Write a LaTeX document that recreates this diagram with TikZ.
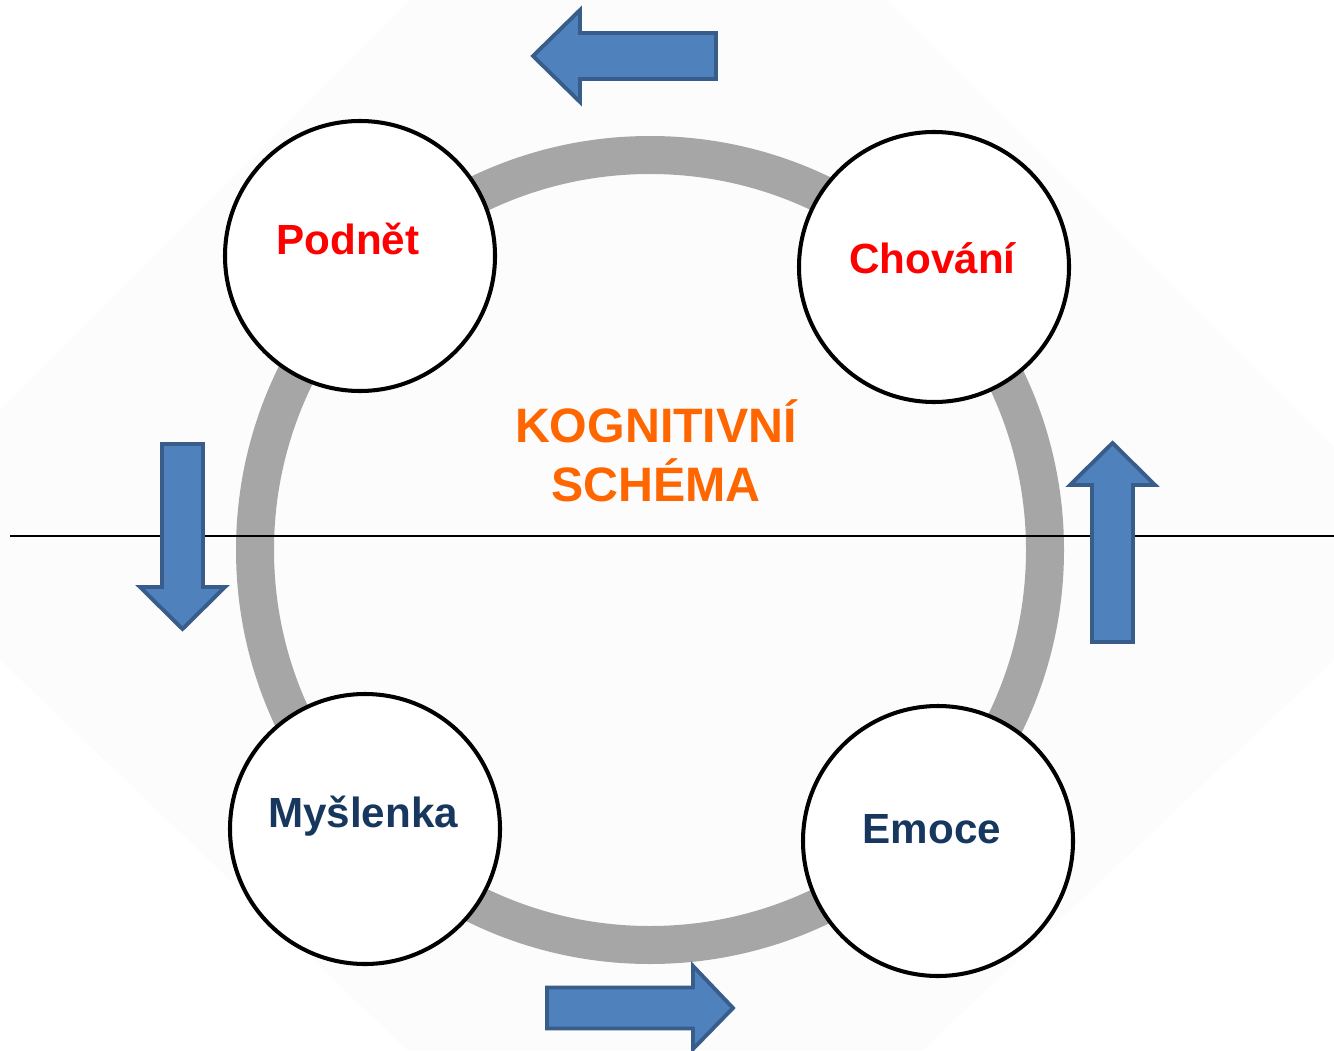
\documentclass[tikz,border=0pt]{standalone}
\usepackage{fontspec}
\setmainfont{Liberation Sans}
\definecolor{modra}{HTML}{4F81BD}
\definecolor{modraokraj}{HTML}{385D8A}
\definecolor{tmavamodra}{HTML}{17375E}
\definecolor{oranzova}{HTML}{FF6600}
\definecolor{sediva}{HTML}{A6A6A6}
\begin{document}
\begin{tikzpicture}[
    bublina/.style={draw, circle, line width=2.3pt, fill=white, minimum size=5.4cm, inner sep=0pt},
    popisek/.style={font=\fontsize{24}{28}\selectfont\bfseries, anchor=base, inner sep=0pt},
    nadpis/.style={font=\fontsize{27.5}{33}\selectfont\bfseries, text=oranzova, anchor=base, inner sep=0pt},
    sipka/.style={draw=modraokraj, fill=modra, line width=2.2pt}]

\useasboundingbox (0,0) rectangle (26.68,21);

% faint background
\fill[gray!2] (8.2,21) -- (17.74,21) -- (26.68,12.06) -- (26.68,7.8) -- (18.46,0)
    -- (8.14,0) -- (0,7.8) -- (0,12.8) -- cycle;

% grey ring
\draw[sediva, line width=0.76cm] (13,10) circle (7.9);

% horizontal line
\coordinate (osaL) at (0.2,10.28);
\coordinate (osaP) at (26.68,10.28);
\draw[line width=0.85pt] (osaL) -- (osaP);

% four circles
\node[bublina] (podnet) at (7.2,15.88) {};
\node[bublina] (chovani) at (18.68,15.66) {};
\node[bublina] (myslenka) at (7.3,4.42) {};
\node[bublina] (emoce) at (18.76,4.18) {};

% labels
\node[popisek, text=red] (podnetT) at (6.96,15.9) {Podnět};
\node[popisek, text=red] (chovaniT) at (18.65,15.54) {Chování};
\node[popisek, text=tmavamodra] (myslenkaT) at (7.26,4.46) {Myšlenka};
\node[popisek, text=tmavamodra] (emoceT) at (18.64,4.14) {Emoce};

% centre text
\node[nadpis] (kognitivni) at (13.12,12.16) {KOGNITIVNÍ};
\node[nadpis] (schema) at (13.12,10.98) {SCHÉMA};

% block arrows
\draw[sipka] (10.66,19.88) -- (11.6,20.8) -- (11.6,20.34) -- (14.32,20.34)
    -- (14.32,19.42) -- (11.6,19.42) -- (11.6,18.96) -- cycle;
\draw[sipka] (3.24,12.12) -- (4.06,12.12) -- (4.06,9.26) -- (4.5,9.26)
    -- (3.65,8.42) -- (2.8,9.26) -- (3.24,9.26) -- cycle;
\draw[sipka] (21.84,8.16) -- (22.66,8.16) -- (22.66,11.3) -- (23.1,11.3)
    -- (22.25,12.14) -- (21.4,11.3) -- (21.84,11.3) -- cycle;
\draw[sipka] (10.94,1.25) -- (13.86,1.25) -- (13.86,1.68) -- (14.66,0.84)
    -- (13.86,0.02) -- (13.86,0.43) -- (10.94,0.43) -- cycle;

\end{tikzpicture}
\end{document}
